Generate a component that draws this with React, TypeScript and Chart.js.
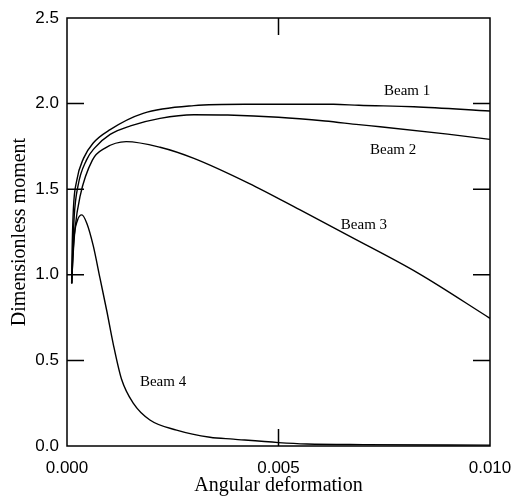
import React, { useEffect, useRef } from "react";
import { Chart, registerables } from "chart.js";

Chart.register(...registerables);

const beam1X = [0.00011, 0.00012, 0.00015, 0.00023, 0.00039, 0.00062, 0.00102, 0.0018, 0.003, 0.0042, 0.0063, 0.0069, 0.0082, 0.01];
const beam1Y = [0.95, 1.13, 1.38, 1.55, 1.68, 1.77, 1.848, 1.943, 1.988, 1.996, 1.996, 1.99, 1.982, 1.957];

const beam2X = [0.00011, 0.00013, 0.00017, 0.00026, 0.00046, 0.00065, 0.00102, 0.0015, 0.0022, 0.003, 0.0038, 0.005, 0.0061, 0.0069, 0.0074, 0.009, 0.01];
const beam2Y = [0.95, 1.1, 1.34, 1.52, 1.67, 1.74, 1.82, 1.87, 1.914, 1.935, 1.933, 1.92, 1.898, 1.877, 1.865, 1.822, 1.791];

const beam3X = [0.00011, 0.00014, 0.00019, 0.00031, 0.0006, 0.0009, 0.0014, 0.0022, 0.003, 0.0043, 0.0055, 0.0067, 0.0083, 0.01];
const beam3Y = [0.95, 1.1, 1.27, 1.46, 1.67, 1.74, 1.778, 1.745, 1.68, 1.534, 1.38, 1.223, 1.01, 0.746];

const beam4X = [0.00011, 0.00016, 0.00025, 0.00035, 0.00047, 0.00062, 0.00078, 0.00094, 0.00109, 0.00129, 0.00157, 0.00196, 0.00259, 0.00338, 0.00393, 0.005, 0.00567, 0.007, 0.01];
const beam4Y = [0.95, 1.2, 1.32, 1.35, 1.3, 1.17, 0.98, 0.79, 0.6, 0.39, 0.249, 0.152, 0.093, 0.051, 0.04, 0.02, 0.012, 0.008, 0.005];

const seriesNames = ["Beam 1", "Beam 2", "Beam 3", "Beam 4"];
const labelX = [0.00804, 0.00771, 0.00702, 0.00227];
const labelY = [2.074, 1.729, 1.291, 0.374];

const xTicks = [0, 0.005, 0.01];
const yTicks = [0, 0.5, 1.0, 1.5, 2.0, 2.5];

const toPoints = (xs: number[], ys: number[]) => xs.map((x, i) => ({ x, y: ys[i] }));

const framePlugin = {
  id: "frameAndLabels",
  afterDatasetsDraw(chart: any) {
    const { ctx, chartArea, scales } = chart;
    const { left, right, top, bottom } = chartArea;
    const tl = 17;
    ctx.save();
    ctx.strokeStyle = "#000";
    ctx.lineWidth = 1.5;
    ctx.strokeRect(left, top, right - left, bottom - top);
    ctx.beginPath();
    yTicks.forEach((v) => {
      if (v === yTicks[0] || v === yTicks[yTicks.length - 1]) return;
      const y = scales.y.getPixelForValue(v);
      ctx.moveTo(left, y);
      ctx.lineTo(left + tl, y);
      ctx.moveTo(right, y);
      ctx.lineTo(right - tl, y);
    });
    xTicks.forEach((v) => {
      if (v === xTicks[0] || v === xTicks[xTicks.length - 1]) return;
      const x = scales.x.getPixelForValue(v);
      ctx.moveTo(x, bottom);
      ctx.lineTo(x, bottom - tl);
      ctx.moveTo(x, top);
      ctx.lineTo(x, top + tl);
    });
    ctx.stroke();
    ctx.fillStyle = "#000";
    ctx.font = "15px 'Liberation Serif', 'Times New Roman', serif";
    ctx.textAlign = "center";
    ctx.textBaseline = "middle";
    seriesNames.forEach((name, i) => {
      ctx.fillText(name, scales.x.getPixelForValue(labelX[i]), scales.y.getPixelForValue(labelY[i]));
    });
    ctx.restore();
  },
};

export default function App() {
  const ref = useRef<HTMLCanvasElement | null>(null);
  useEffect(() => {
    if (!ref.current) return;
    const mk = (xs: number[], ys: number[], label: string) => ({
      label,
      data: toPoints(xs, ys),
      borderColor: "#000",
      borderWidth: 1.4,
      pointRadius: 0,
      fill: false,
      cubicInterpolationMode: "monotone" as const,
    });
    const chart = new Chart(ref.current, {
      type: "line",
      data: {
        datasets: [
          mk(beam1X, beam1Y, seriesNames[0]),
          mk(beam2X, beam2Y, seriesNames[1]),
          mk(beam3X, beam3Y, seriesNames[2]),
          mk(beam4X, beam4Y, seriesNames[3]),
        ],
      },
      options: {
        animation: false,
        responsive: false,
        maintainAspectRatio: false,
        layout: { padding: { top: 18, right: 25, left: 0, bottom: 0 } },
        plugins: { legend: { display: false }, tooltip: { enabled: false } },
        scales: {
          x: {
            type: "linear",
            min: 0,
            max: 0.01,
            afterBuildTicks: (s: any) => {
              s.ticks = xTicks.map((v) => ({ value: v }));
            },
            afterFit: (s: any) => {
              s.height = 53;
              s.paddingLeft = 0;
              s.paddingRight = 0;
            },
            grid: { display: false, drawTicks: false },
            border: { display: false },
            ticks: {
              color: "#000",
              padding: 12,
              maxRotation: 0,
              font: { family: "'Liberation Sans', Arial, sans-serif", size: 17 },
              callback: (v: any) => Number(v).toFixed(3),
            },
            title: {
              display: true,
              text: "Angular deformation",
              color: "#000",
              padding: { top: 0, bottom: 1 },
              font: { family: "'Liberation Serif', 'Times New Roman', serif", size: 20 },
            },
          },
          y: {
            type: "linear",
            min: 0,
            max: 2.5,
            afterBuildTicks: (s: any) => {
              s.ticks = yTicks.map((v) => ({ value: v }));
            },
            afterFit: (s: any) => {
              s.width = 67;
              s.paddingTop = 0;
              s.paddingBottom = 0;
            },
            grid: { display: false, drawTicks: false },
            border: { display: false },
            ticks: {
              color: "#000",
              padding: 8,
              font: { family: "'Liberation Sans', Arial, sans-serif", size: 17 },
              callback: (v: any) => Number(v).toFixed(1),
            },
            title: {
              display: true,
              text: "Dimensionless moment",
              color: "#000",
              padding: { top: 8, bottom: 0 },
              font: { family: "'Liberation Serif', 'Times New Roman', serif", size: 20 },
            },
          },
        },
      },
      plugins: [framePlugin],
    });
    return () => chart.destroy();
  }, []);
  return (
    <div style={{ position: "absolute", left: 0, top: 0, width: 515, height: 499, background: "#fff" }}>
      <canvas ref={ref} width={515} height={499} style={{ width: 515, height: 499 }} />
    </div>
  );
}
